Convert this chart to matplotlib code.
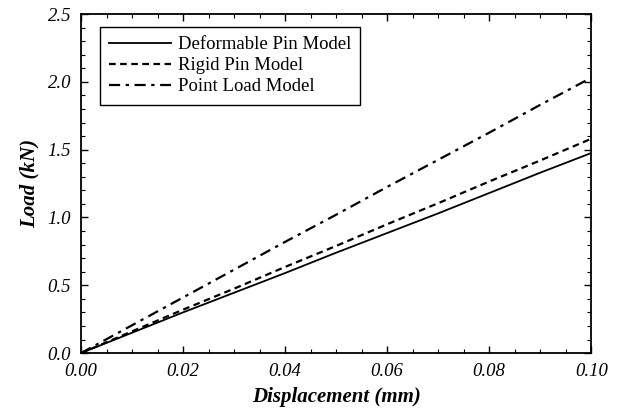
import matplotlib
matplotlib.use("Agg")
import matplotlib.pyplot as plt
from matplotlib.ticker import MultipleLocator, FormatStrFormatter

plt.rcParams.update({
    "font.family": ["Liberation Serif", "DejaVu Serif"],
    "font.size": 13,
})

# displacement (mm) and load (kN)
disp = [0.00, 0.01, 0.02, 0.03, 0.04, 0.05, 0.06, 0.07, 0.08, 0.09, 0.10]
load_deformable = [0.0, 0.15, 0.30, 0.445, 0.59, 0.74, 0.885, 1.03, 1.18, 1.33, 1.475]
load_rigid = [0.0, 0.16, 0.32, 0.475, 0.635, 0.79, 0.95, 1.105, 1.265, 1.42, 1.58]
load_point = [0.0, 0.205, 0.41, 0.615, 0.82, 1.02, 1.225, 1.425, 1.625, 1.83, 2.03]

fig = plt.figure(figsize=(6.23, 4.12), dpi=100)
ax = fig.add_axes([0.130, 0.143, 0.819, 0.823])

ax.plot(disp, load_deformable, color="black", linewidth=1.3, label="Deformable Pin Model")
ax.plot(disp, load_rigid, color="black", linewidth=1.6, linestyle=(0, (3, 2)),
        label="Rigid Pin Model")
ax.plot(disp, load_point, color="black", linewidth=1.6,
        linestyle=(0, (5, 2.5, 1.5, 2.5)), label="Point Load Model")

ax.set_xlim(0, 0.10)
ax.set_ylim(0, 2.5)
ax.xaxis.set_major_locator(MultipleLocator(0.02))
ax.xaxis.set_minor_locator(MultipleLocator(0.005))
ax.yaxis.set_major_locator(MultipleLocator(0.5))
ax.yaxis.set_minor_locator(MultipleLocator(0.1))
ax.xaxis.set_major_formatter(FormatStrFormatter("%.2f"))
ax.yaxis.set_major_formatter(FormatStrFormatter("%.1f"))
ax.tick_params(which="both", direction="in", top=True, right=True)
ax.tick_params(which="major", length=5, width=1, labelsize=13.5, pad=7)
ax.tick_params(which="minor", length=3, width=0.8)
for lbl in ax.get_xticklabels() + ax.get_yticklabels():
    lbl.set_fontstyle("italic")
for spine in ax.spines.values():
    spine.set_linewidth(1.3)

ax.set_xlabel("Displacement (mm)", fontsize=15, fontweight="bold",
              fontstyle="italic", labelpad=5)
ax.set_ylabel("Load (kN)", fontsize=15, fontweight="bold",
              fontstyle="italic", labelpad=6)

leg = ax.legend(loc="upper left", bbox_to_anchor=(0.037, 0.962), borderaxespad=0,
                fontsize=13.5, handlelength=3.3, handletextpad=0.35,
                labelspacing=0.2, borderpad=0.5, fancybox=False, framealpha=1,
                edgecolor="black")
leg.get_frame().set_linewidth(1.0)

fig.savefig("out.png", dpi=100)
